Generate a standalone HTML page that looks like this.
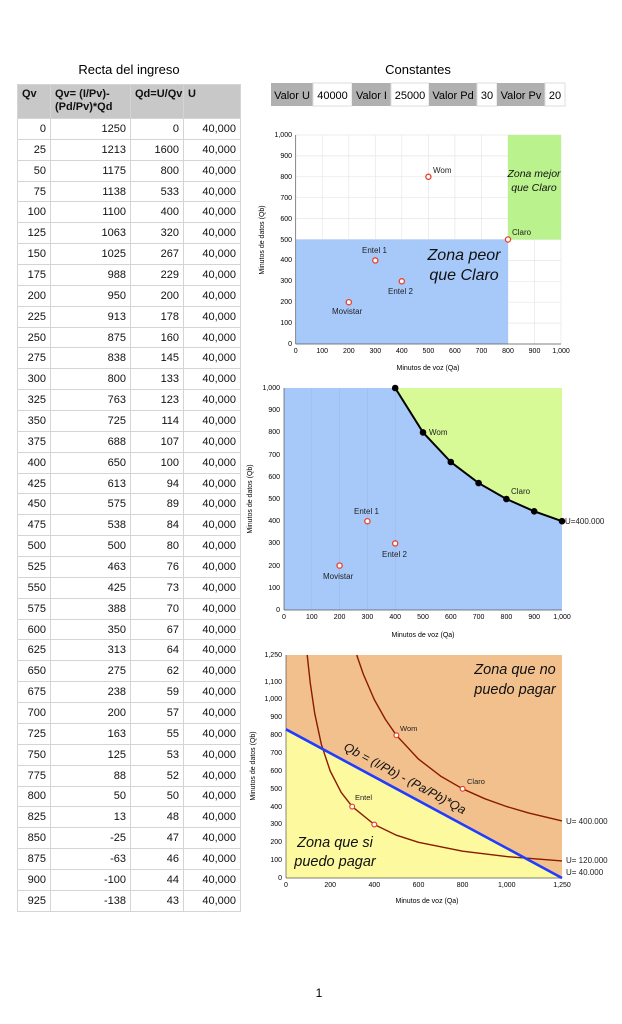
<!DOCTYPE html>
<html><head><meta charset="utf-8"><style>
body{margin:0;width:622px;height:1024px;background:#fff;font-family:"Liberation Sans",sans-serif;position:relative;overflow:hidden}
table{position:absolute;left:17px;top:84px;border-collapse:collapse;font-size:11px;color:#111;table-layout:fixed;width:223px}
td,th{border:1px solid #d4d4d4;padding:0 4px;height:20.87px;line-height:12px;text-align:right;box-sizing:border-box;overflow:hidden;white-space:nowrap}
th{background:#c8c8c8;text-align:left;vertical-align:top;font-weight:bold;height:34px;padding-top:3px;line-height:13px;font-size:11px;white-space:normal}
</style></head><body>
<table>
<colgroup><col style="width:33px"><col style="width:80px"><col style="width:53px"><col style="width:57px"></colgroup>
<tr><th>Qv</th><th>Qv= (I/Pv)-(Pd/Pv)*Qd</th><th>Qd=U/Qv</th><th>U</th></tr>
<tr><td>0</td><td>1250</td><td>0</td><td>40,000</td></tr>
<tr><td>25</td><td>1213</td><td>1600</td><td>40,000</td></tr>
<tr><td>50</td><td>1175</td><td>800</td><td>40,000</td></tr>
<tr><td>75</td><td>1138</td><td>533</td><td>40,000</td></tr>
<tr><td>100</td><td>1100</td><td>400</td><td>40,000</td></tr>
<tr><td>125</td><td>1063</td><td>320</td><td>40,000</td></tr>
<tr><td>150</td><td>1025</td><td>267</td><td>40,000</td></tr>
<tr><td>175</td><td>988</td><td>229</td><td>40,000</td></tr>
<tr><td>200</td><td>950</td><td>200</td><td>40,000</td></tr>
<tr><td>225</td><td>913</td><td>178</td><td>40,000</td></tr>
<tr><td>250</td><td>875</td><td>160</td><td>40,000</td></tr>
<tr><td>275</td><td>838</td><td>145</td><td>40,000</td></tr>
<tr><td>300</td><td>800</td><td>133</td><td>40,000</td></tr>
<tr><td>325</td><td>763</td><td>123</td><td>40,000</td></tr>
<tr><td>350</td><td>725</td><td>114</td><td>40,000</td></tr>
<tr><td>375</td><td>688</td><td>107</td><td>40,000</td></tr>
<tr><td>400</td><td>650</td><td>100</td><td>40,000</td></tr>
<tr><td>425</td><td>613</td><td>94</td><td>40,000</td></tr>
<tr><td>450</td><td>575</td><td>89</td><td>40,000</td></tr>
<tr><td>475</td><td>538</td><td>84</td><td>40,000</td></tr>
<tr><td>500</td><td>500</td><td>80</td><td>40,000</td></tr>
<tr><td>525</td><td>463</td><td>76</td><td>40,000</td></tr>
<tr><td>550</td><td>425</td><td>73</td><td>40,000</td></tr>
<tr><td>575</td><td>388</td><td>70</td><td>40,000</td></tr>
<tr><td>600</td><td>350</td><td>67</td><td>40,000</td></tr>
<tr><td>625</td><td>313</td><td>64</td><td>40,000</td></tr>
<tr><td>650</td><td>275</td><td>62</td><td>40,000</td></tr>
<tr><td>675</td><td>238</td><td>59</td><td>40,000</td></tr>
<tr><td>700</td><td>200</td><td>57</td><td>40,000</td></tr>
<tr><td>725</td><td>163</td><td>55</td><td>40,000</td></tr>
<tr><td>750</td><td>125</td><td>53</td><td>40,000</td></tr>
<tr><td>775</td><td>88</td><td>52</td><td>40,000</td></tr>
<tr><td>800</td><td>50</td><td>50</td><td>40,000</td></tr>
<tr><td>825</td><td>13</td><td>48</td><td>40,000</td></tr>
<tr><td>850</td><td>-25</td><td>47</td><td>40,000</td></tr>
<tr><td>875</td><td>-63</td><td>46</td><td>40,000</td></tr>
<tr><td>900</td><td>-100</td><td>44</td><td>40,000</td></tr>
<tr><td>925</td><td>-138</td><td>43</td><td>40,000</td></tr>
</table>
<svg width="622" height="1024" style="position:absolute;left:0;top:0" font-family="Liberation Sans, sans-serif">
<text x="129" y="74" font-size="13" text-anchor="middle">Recta del ingreso</text>
<text x="418" y="74" font-size="13" text-anchor="middle">Constantes</text>
<g font-size="11" text-anchor="middle">
<rect x="271" y="83" width="42" height="23" fill="#b0b0b0"/><text x="292" y="99">Valor U</text>
<rect x="313" y="83" width="39" height="23" fill="#fff" stroke="#ddd"/><text x="332.5" y="99">40000</text>
<rect x="352" y="83" width="39" height="23" fill="#b0b0b0"/><text x="371.5" y="99">Valor I</text>
<rect x="391" y="83" width="38" height="23" fill="#fff" stroke="#ddd"/><text x="410" y="99">25000</text>
<rect x="429" y="83" width="48" height="23" fill="#b0b0b0"/><text x="453" y="99">Valor Pd</text>
<rect x="477" y="83" width="20" height="23" fill="#fff" stroke="#ddd"/><text x="487" y="99">30</text>
<rect x="497" y="83" width="48" height="23" fill="#b0b0b0"/><text x="521" y="99">Valor Pv</text>
<rect x="545" y="83" width="20" height="23" fill="#fff" stroke="#ddd"/><text x="555" y="99">20</text>
</g>

<!-- Chart 1 -->
<g stroke="#e6e6e6" stroke-width="0.7">
<line x1="322.2" y1="135" x2="322.2" y2="344"/><line x1="348.8" y1="135" x2="348.8" y2="344"/><line x1="375.3" y1="135" x2="375.3" y2="344"/><line x1="401.8" y1="135" x2="401.8" y2="344"/><line x1="428.4" y1="135" x2="428.4" y2="344"/><line x1="454.9" y1="135" x2="454.9" y2="344"/><line x1="481.4" y1="135" x2="481.4" y2="344"/><line x1="508" y1="135" x2="508" y2="344"/><line x1="534.5" y1="135" x2="534.5" y2="344"/><line x1="561" y1="135" x2="561" y2="344"/>
<line x1="295.7" y1="323.1" x2="561" y2="323.1"/><line x1="295.7" y1="302.2" x2="561" y2="302.2"/><line x1="295.7" y1="281.3" x2="561" y2="281.3"/><line x1="295.7" y1="260.4" x2="561" y2="260.4"/><line x1="295.7" y1="239.5" x2="561" y2="239.5"/><line x1="295.7" y1="218.6" x2="561" y2="218.6"/><line x1="295.7" y1="197.7" x2="561" y2="197.7"/><line x1="295.7" y1="176.8" x2="561" y2="176.8"/><line x1="295.7" y1="155.9" x2="561" y2="155.9"/><line x1="295.7" y1="135" x2="561" y2="135"/>
</g>
<rect x="295.7" y="239.5" width="212.3" height="104.5" fill="#a7c9fa"/>
<rect x="508" y="135" width="53" height="104.5" fill="#baf28e"/>
<line x1="295.7" y1="135" x2="295.7" y2="344" stroke="#555" stroke-width="0.7"/>
<line x1="295.7" y1="344" x2="561" y2="344" stroke="#555" stroke-width="0.7"/>
<g font-size="7" text-anchor="end">
<text x="292" y="346">0</text><text x="292" y="325">100</text><text x="292" y="304">200</text><text x="292" y="283">300</text><text x="292" y="262">400</text><text x="292" y="242">500</text><text x="292" y="221">600</text><text x="292" y="200">700</text><text x="292" y="179">800</text><text x="292" y="158">900</text><text x="292" y="137">1,000</text>
</g>
<g font-size="7" text-anchor="middle">
<text x="295.7" y="353">0</text><text x="322.2" y="353">100</text><text x="348.8" y="353">200</text><text x="375.3" y="353">300</text><text x="401.8" y="353">400</text><text x="428.4" y="353">500</text><text x="454.9" y="353">600</text><text x="481.4" y="353">700</text><text x="508" y="353">800</text><text x="534.5" y="353">900</text><text x="561" y="353">1,000</text>
<text x="428" y="370">Minutos de voz (Qa)</text>
<text transform="translate(264,240) rotate(-90)">Minutos de datos (Qb)</text>
</g>
<g fill="#fff" stroke="#e8402a" stroke-width="1.3">
<circle cx="428.4" cy="176.8" r="2.6"/><circle cx="508" cy="239.5" r="2.6"/><circle cx="375.3" cy="260.4" r="2.6"/><circle cx="401.8" cy="281.3" r="2.6"/><circle cx="348.8" cy="302.2" r="2.6"/>
</g>
<g font-size="8" fill="#222">
<text x="433" y="173">Wom</text><text x="512" y="235">Claro</text><text x="362" y="253">Entel 1</text><text x="388" y="294">Entel 2</text><text x="332" y="314">Movistar</text>
</g>
<g font-size="16" font-style="italic" text-anchor="middle" fill="#111">
<text x="464" y="260">Zona peor</text><text x="464" y="280">que Claro</text>
</g>
<g font-size="10.5" font-style="italic" text-anchor="middle" fill="#111">
<text x="534" y="177">Zona mejor</text><text x="534" y="191">que Claro</text>
</g>

<!-- Chart 2 -->
<rect x="284" y="388" width="278" height="222" fill="#a7c9fa"/>
<polygon points="395.2,388 423,432.4 450.8,462 478.6,483.1 506.4,499 534.2,511.3 562,521.2 562,388" fill="#d7fa97"/>
<g stroke="#9ab8e6" stroke-width="0.5">
<line x1="311.8" y1="388" x2="311.8" y2="610"/><line x1="339.6" y1="388" x2="339.6" y2="610"/><line x1="367.4" y1="388" x2="367.4" y2="610"/><line x1="395.2" y1="388" x2="395.2" y2="610"/>
</g>
<line x1="284" y1="388" x2="284" y2="610" stroke="#555" stroke-width="0.7"/>
<line x1="284" y1="610" x2="562" y2="610" stroke="#555" stroke-width="0.7"/>
<polyline points="395.2,388 423,432.4 450.8,462 478.6,483.1 506.4,499 534.2,511.3 562,521.2" fill="none" stroke="#000" stroke-width="2"/>
<g fill="#000">
<circle cx="395.2" cy="388" r="3.3"/><circle cx="423" cy="432.4" r="3.3"/><circle cx="450.8" cy="462" r="3.3"/><circle cx="478.6" cy="483.1" r="3.3"/><circle cx="506.4" cy="499" r="3.3"/><circle cx="534.2" cy="511.3" r="3.3"/><circle cx="562" cy="521.2" r="3.3"/>
</g>
<g font-size="7" text-anchor="end">
<text x="280" y="612">0</text><text x="280" y="590">100</text><text x="280" y="568">200</text><text x="280" y="545">300</text><text x="280" y="523">400</text><text x="280" y="501">500</text><text x="280" y="479">600</text><text x="280" y="457">700</text><text x="280" y="434">800</text><text x="280" y="412">900</text><text x="280" y="390">1,000</text>
</g>
<g font-size="7" text-anchor="middle">
<text x="284" y="619">0</text><text x="311.8" y="619">100</text><text x="339.6" y="619">200</text><text x="367.4" y="619">300</text><text x="395.2" y="619">400</text><text x="423" y="619">500</text><text x="450.8" y="619">600</text><text x="478.6" y="619">700</text><text x="506.4" y="619">800</text><text x="534.2" y="619">900</text><text x="562" y="619">1,000</text>
<text x="423" y="637">Minutos de voz (Qa)</text>
<text transform="translate(252,499) rotate(-90)">Minutos de datos (Qb)</text>
</g>
<g fill="#fff" stroke="#e8402a" stroke-width="1.3">
<circle cx="367.4" cy="521.2" r="2.6"/><circle cx="395.2" cy="543.4" r="2.6"/><circle cx="339.6" cy="565.6" r="2.6"/>
</g>
<g font-size="8" fill="#222">
<text x="429" y="435">Wom</text><text x="511" y="494">Claro</text><text x="565" y="524">U=400.000</text><text x="354" y="514">Entel 1</text><text x="382" y="557">Entel 2</text><text x="323" y="579">Movistar</text>
</g>

<!-- Chart 3 -->
<rect x="286" y="655" width="276" height="223" fill="#f1c08c"/>
<polygon points="286,729.3 562,878 286,878" fill="#fdf99f"/>
<line x1="286" y1="655" x2="286" y2="878" stroke="#555" stroke-width="0.7"/>
<line x1="286" y1="878" x2="562" y2="878" stroke="#555" stroke-width="0.7"/>
<g fill="none" stroke="#8a1a00" stroke-width="1.4" stroke-linejoin="round">
<polyline points="356.7,655 363.3,674.1 374.3,699.6 385.4,719.4 396.4,735.3 418.5,759.1 440.6,776.1 462.6,788.8 484.7,798.7 506.8,806.6 528.9,813.1 562,820.9"/>
<polyline points="307.2,655 310.3,683.4 314.7,713.3 321.3,744.2 330.2,771 341.2,792.4 352.2,806.6 374.3,824.5 396.4,835.2 418.5,842.3 462.6,851.2 506.8,856.6 562,860.9"/>
</g>
<line x1="286" y1="729.3" x2="562" y2="878" stroke="#1f3cff" stroke-width="2.6"/>
<g fill="#fff" stroke="#e8402a" stroke-width="1.2">
<circle cx="396.4" cy="735.3" r="2.4"/><circle cx="462.6" cy="788.8" r="2.4"/><circle cx="352.2" cy="806.6" r="2.4"/><circle cx="374.3" cy="824.5" r="2.4"/>
</g>
<g font-size="7" text-anchor="end">
<text x="282" y="880">0</text><text x="282" y="862">100</text><text x="282" y="844">200</text><text x="282" y="826">300</text><text x="282" y="809">400</text><text x="282" y="791">500</text><text x="282" y="773">600</text><text x="282" y="755">700</text><text x="282" y="737">800</text><text x="282" y="719">900</text><text x="282" y="701">1,000</text><text x="282" y="684">1,100</text><text x="282" y="657">1,250</text>
</g>
<g font-size="7" text-anchor="middle">
<text x="286" y="887">0</text><text x="330.2" y="887">200</text><text x="374.3" y="887">400</text><text x="418.5" y="887">600</text><text x="462.6" y="887">800</text><text x="506.8" y="887">1,000</text><text x="562" y="887">1,250</text>
<text x="427" y="903">Minutos de voz (Qa)</text>
<text transform="translate(255,766) rotate(-90)">Minutos de datos (Qb)</text>
</g>
<g font-size="7.5" fill="#222">
<text x="400" y="731">Wom</text><text x="467" y="784">Claro</text><text x="355" y="800">Entel</text>
</g>
<g font-size="8" fill="#222">
<text x="566" y="824">U= 400.000</text><text x="566" y="863">U= 120.000</text><text x="566" y="875">U= 40.000</text>
</g>
<text transform="translate(403,782) rotate(28.3)" font-size="12.5" font-style="italic" text-anchor="middle" fill="#111">Qb = (I/Pb) - (Pa/Pb)*Qa</text>
<g font-size="14.5" font-style="italic" text-anchor="middle" fill="#111">
<text x="515" y="674">Zona que no</text><text x="515" y="694">puedo pagar</text>
<text x="335" y="847">Zona que si</text><text x="335" y="866">puedo pagar</text>
</g>

<text x="319" y="997" font-size="12" text-anchor="middle">1</text>
</svg>
</body></html>
